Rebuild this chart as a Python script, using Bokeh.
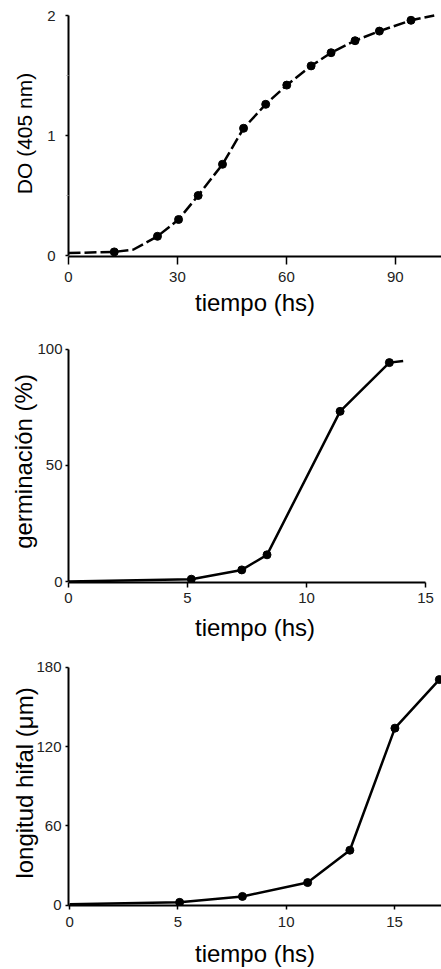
from bokeh.plotting import figure
from bokeh.layouts import column
from bokeh.models import FixedTicker, Range1d
from bokeh.embed import file_html
from bokeh.resources import INLINE

# ---------------- data ----------------
# Panel 1: optical density vs time
do_time = [12.6, 24.5, 30.3, 35.7, 42.4, 48.2, 54.3, 60.1, 66.8, 72.3, 78.9, 85.6, 94.3]
do_value = [0.03, 0.16, 0.30, 0.50, 0.76, 1.06, 1.26, 1.42, 1.58, 1.69, 1.79, 1.87, 1.96]
do_curve_time = [0, 12.6, 17.9, 24.5, 30.3, 35.7, 42.4, 48.2, 54.3, 60.1, 66.8, 72.3, 78.9, 85.6, 94.3, 100.7]
do_curve_value = [0.02, 0.03, 0.05, 0.16, 0.30, 0.50, 0.76, 1.06, 1.26, 1.42, 1.58, 1.69, 1.79, 1.87, 1.96, 2.0]
do_xticks = [0, 30, 60, 90]
do_yticks = [0, 1, 2]

# Panel 2: germination (%) vs time
germ_time = [5.16, 7.28, 8.34, 11.41, 13.48]
germ_value = [1.0, 5.0, 11.5, 73.3, 94.3]
germ_curve_time = [0, 5.16, 7.28, 8.34, 11.41, 13.48, 14.06]
germ_curve_value = [0, 1.0, 5.0, 11.5, 73.3, 94.3, 95.0]
germ_xticks = [0, 5, 10, 15]
germ_yticks = [0, 50, 100]

# Panel 3: hyphal length vs time
hyph_time = [5.08, 7.98, 10.99, 12.94, 15.02, 17.07]
hyph_value = [2.0, 6.5, 17.0, 41.5, 134.0, 170.8]
hyph_curve_time = [0, 5.08, 7.98, 10.99, 12.94, 15.02, 17.07]
hyph_curve_value = [0.5, 2.0, 6.5, 17.0, 41.5, 134.0, 170.8]
hyph_xticks = [0, 5, 10, 15]
hyph_yticks = [0, 60, 120, 180]

FONT = "Liberation Sans"
W = 441
LEFT = 68


def make_panel(height, top, bottom, xr, xbounds, yr, xticks, yticks, ybounds, xlabel, ylabel,
               ylabel_size, x_tick_out, x_std, x_lab_std, y_std, y_lab_std, minor=None):
    p = figure(width=W, height=height, output_backend="svg", toolbar_location=None,
               x_range=Range1d(*xr), y_range=Range1d(*yr),
               min_border_top=top, min_border_right=0,
               min_border_bottom=bottom, min_border_left=LEFT)
    p.outline_line_color = None
    p.grid.visible = False
    p.background_fill_color = "white"
    p.border_fill_color = "white"

    p.xaxis.ticker = FixedTicker(ticks=xticks, minor_ticks=[])
    p.yaxis.ticker = FixedTicker(ticks=yticks, minor_ticks=minor or [])
    p.yaxis.bounds = ybounds
    p.xaxis.bounds = xbounds

    for ax in (p.xaxis[0], p.yaxis[0]):
        ax.axis_line_width = 2
        ax.axis_line_color = "black"
        ax.major_tick_line_width = 1.5
        ax.major_tick_in = 0
        ax.minor_tick_in = 0
        ax.minor_tick_out = 2
        ax.minor_tick_line_color = "#999999"
        ax.major_label_text_font = FONT
        ax.major_label_text_font_size = "15px"
        ax.major_label_text_color = "#222222"
        ax.axis_label_text_font = FONT
        ax.axis_label_text_font_style = "normal"
        ax.axis_label_text_color = "black"

    p.xaxis.major_tick_out = x_tick_out
    p.xaxis.major_label_standoff = x_std
    p.xaxis.axis_label = xlabel
    p.xaxis.axis_label_text_font_size = "24px"
    p.xaxis.axis_label_standoff = x_lab_std

    p.yaxis.major_tick_out = 3
    p.yaxis.major_label_standoff = y_std
    p.yaxis.axis_label = ylabel
    p.yaxis.axis_label_text_font_size = ylabel_size
    p.yaxis.axis_label_standoff = y_lab_std
    return p


# Panel 1
p1 = make_panel(318, 10, 62, (0, 102.7), "auto", (-0.0083, 2.0417),
                do_xticks, do_yticks, (0, 2), "tiempo (hs)", "DO (405 nm)", "21px",
                8, 7, 4, 10, 8, minor=[0.5, 1.5])
p1.line(do_curve_time, do_curve_value, line_color="black", line_width=2.5, line_dash="12 4")
p1.scatter(do_time, do_value, size=8, color="black")

# Panel 2
p2 = make_panel(325, 22, 58, (0, 15.67), (0, 15), (-0.426, 103.83),
                germ_xticks, germ_yticks, (0, 100), "tiempo (hs)", "germinación (%)", "24px",
                5, 5, 8, 3, -3)
p2.line(germ_curve_time, germ_curve_value, line_color="black", line_width=2.5)
p2.scatter(germ_time, germ_value, size=8, color="black")

# Panel 3
p3 = make_panel(326, 17, 62, (-0.05, 17.17), "auto", (-0.375, 185.25),
                hyph_xticks, hyph_yticks, (0, 180), "tiempo (hs)", "longitud hifal (μm)", "24px",
                4, 7, 10, 4, -5)
p3.line(hyph_curve_time, hyph_curve_value, line_color="black", line_width=2.5)
p3.scatter(hyph_time, hyph_value, size=8, color="black")

layout = column(p1, p2, p3, spacing=0)
open("out.html", "w").write(file_html(layout, INLINE))
